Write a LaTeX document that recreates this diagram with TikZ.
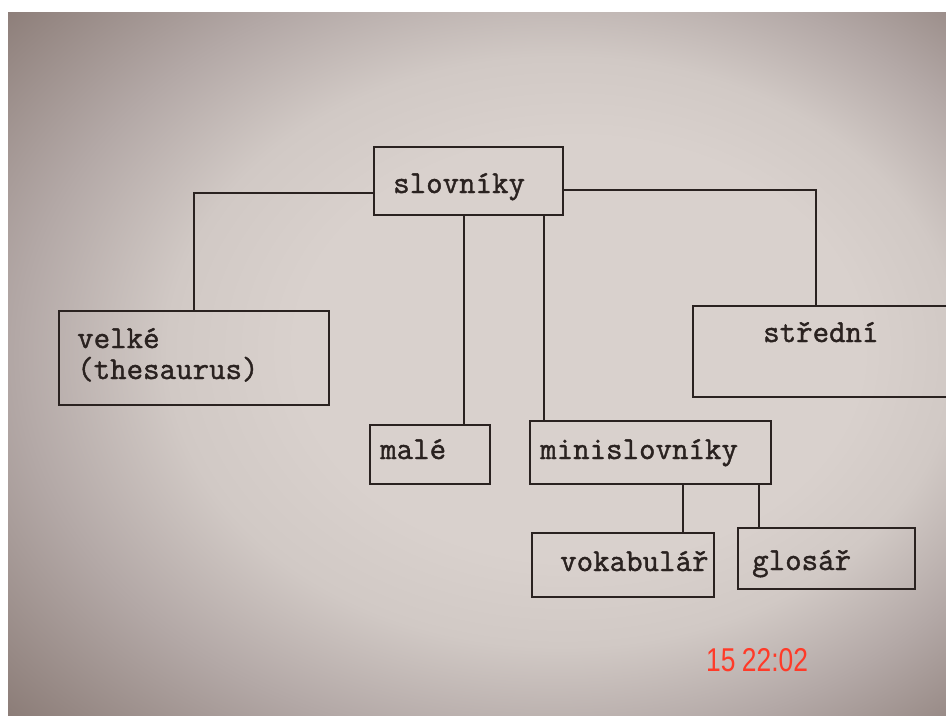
\documentclass[tikz,border=0pt]{standalone}
\usepackage{fontspec}
\newfontfamily\typefont{Latin Modern Mono}[FakeBold=1.3]
\newfontfamily\stampfont{Liberation Sans}
\definecolor{pA}{HTML}{D9D1CD}
\definecolor{pB}{HTML}{D1C9C5}
\definecolor{pC}{HTML}{B3A8A6}
\definecolor{pD}{HTML}{8C7D78}
\definecolor{ink}{HTML}{2A2220}
\definecolor{stampred}{HTML}{FF3A28}
\pgfdeclareradialshading{vign}{\pgfpoint{7.8bp}{1.5bp}}{color(0bp)=(pA); color(15bp)=(pA); color(21bp)=(pB); color(28bp)=(pC); color(37bp)=(pD); color(50bp)=(pD)}
\begin{document}
\begin{tikzpicture}[x=1pt,y=-1pt,
  box/.style={draw=ink, line width=1.9pt, inner sep=0pt, anchor=north west},
  lbl/.style={font=\typefont\fontsize{32}{31}\selectfont, text=ink, inner sep=0pt, anchor=base west},
  link/.style={draw=ink, line width=1.8pt}]
\useasboundingbox (0,0) rectangle (946,717);
\fill[white] (0,0) rectangle (946,717);
\shade[shading=vign] (8,13) rectangle (946,715);
\begin{scope}
\clip (8,13) rectangle (946,715);
% boxes
\node[box, minimum width=189pt, minimum height=68pt] (s) at (373,146) {};
\node[box, minimum width=270pt, minimum height=94pt] (v) at (58,310) {};
\node[box, minimum width=290pt, minimum height=91pt] (st) at (692,305) {};
\node[box, minimum width=120pt, minimum height=59pt] (m) at (369,424) {};
\node[box, minimum width=241pt, minimum height=63pt] (mi) at (529,420) {};
\node[box, minimum width=182pt, minimum height=64pt] (vo) at (531,532) {};
\node[box, minimum width=177pt, minimum height=61pt] (g) at (737,527) {};
% labels
\node[lbl] (ts) at (393,193) {slovníky};
\node[lbl, align=left] (tv) at (77,379) {velké\\(thesaurus)};
\node[lbl] (tst) at (763,342) {střední};
\node[lbl] (tm) at (380,459) {malé};
\node[lbl] (tmi) at (540,459) {minislovníky};
\node[lbl] (tvo) at (560,571) {vokabulář};
\node[lbl] (tg) at (752,570) {glosář};
% connectors
\draw[link] ([yshift=-12]s.west) -| (v.north);
\draw[link] ([yshift=-9]s.east) -| ([xshift=-22]st.north);
\draw[link] ([xshift=34]m.north) -- ([xshift=34]m.north |- s.south);
\draw[link] ([xshift=15]mi.north west) -- ([xshift=15]mi.north west |- s.south);
\draw[link] ([xshift=-32]vo.north east) -- ([xshift=-32]vo.north east |- mi.south);
\draw[link] ([xshift=22]g.north west) -- ([xshift=22]g.north west |- mi.south);
% timestamp
\node[font=\stampfont\fontsize{33}{33}\selectfont, text=stampred, inner sep=0pt, anchor=base west, xscale=0.8] (stamp) at (706,671) {15\hspace{8pt}22:02};
\end{scope}
\end{tikzpicture}
\end{document}
